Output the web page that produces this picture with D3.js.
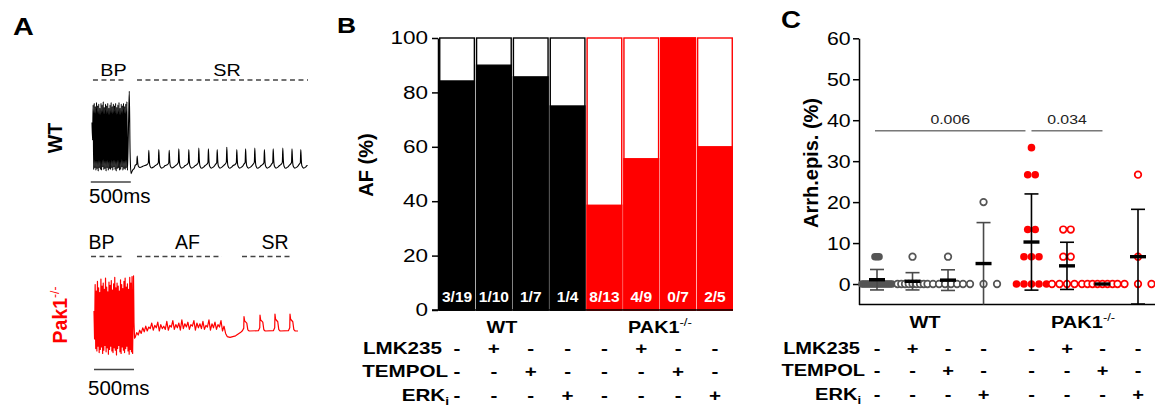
<!DOCTYPE html>
<html><head><meta charset="utf-8">
<script src="https://cdn.jsdelivr.net/npm/d3@7"></script>
<style>
body{margin:0;background:#fff}
svg{display:block}
text{font-family:"Liberation Sans",Arial,Helvetica,sans-serif}
</style>
</head><body>
<svg id="fig" width="1155" height="411"></svg>
<script>
// ================= DATA =================
// ---- Panel A : WT trace (time ms, signal a.u.) ----
const wtBurstHigh = [62, 84, 86, 82, 87, 83, 85, 80, 86, 84, 88, 81, 85, 83, 86, 80, 84, 87, 82, 85, 83, 86, 81, 84, 87, 80, 85, 83, 86, 82, 85, 88];
const wtBurstLow  = [40, 3, 5, 2, 4, 1, 5, 3, 2, 6, 3, 4, 1, 5, 2, 4, 3, 5, 2, 6, 3, 1, 4, 5, 2, 3, 6, 2, 4, 3, 5, 2];
const wtBurstEnd  = [[455, 50], [466, 101], [476, 25], [488, -2], [505, 2], [530, 5]];
const wtSpikeTimes = [565, 710, 835, 965, 1085, 1210, 1335, 1455, 1565, 1685, 1810, 1920, 2035, 2155, 2265, 2385, 2500, 2610];
const wtSpikePeaks = [20, 27, 28, 27, 29, 28, 30, 29, 28, 31, 28, 29, 30, 28, 29, 30, 29, 28];
const wtBaseline = 7;
const wtEndTime = 2675;
const wtSpikeShapeT = [-25, -6, 0, 6, 15, 35, 60, 80];
const wtSpikeShapeV = [0.1, 0.22, 1, 0.4, 0.02, -0.1, -0.04, 0.05];
const wtPhases = [{label: "BP", t0: 12, t1: 425, tl: 269}, {label: "SR", t0: 562, t1: 2700, tl: 1687}];

// ---- Panel A : Pak1-/- trace ----
const pakBurstHigh = [55, 88, 80, 92, 84, 78, 95, 86, 90, 82, 96, 85, 79, 91, 87, 93, 81, 89, 97, 84, 90, 86, 80, 94, 88, 83, 92, 96, 85, 89, 82, 97, 90, 98];
const pakBurstLow  = [20, 8, 5, 11, 3, 7, 10, 2, 6, 12, 4, 9, 1, 7, 11, 5, 3, 9, 6, 0, 8, 12, 4, 2, 10, 6, 3, 8, 11, 5, 1, 7, 4, 2];
const pakBurstEnd  = [[494, 99], [500, 40], [507, 21]];
const pakAF = [22, 28, 25, 31, 27, 34, 29, 36, 30, 35, 33, 40, 31, 37, 34, 41, 30, 38, 33, 36, 32, 42, 31, 37, 35, 43, 32, 38, 34, 40, 31, 44, 33, 39, 35, 41, 32, 38, 36, 43, 31, 40, 34, 39, 33, 42, 32, 37, 35, 44, 31, 39, 34, 41, 32, 38, 35, 43, 30, 36];
const pakAFStart = 515, pakAFEnd = 1625;
const pakDip = [[1645, 27], [1665, 23], [1700, 22], [1770, 24], [1830, 28]];
const pakSpikeTimes = [1875, 2075, 2262, 2450];
const pakSpikePeaks = [48, 50, 51, 51];
const pakBaseline = 30;
const pakEndTime = 2550;
const pakSpikeShapeT = [-20, -3, 0, 8, 35, 48, 65];
const pakSpikeShapeV = [0.02, 0.2, 1, 0.7, 0.55, 0.08, 0];
const pakPhases = [{label: "BP", t0: -37, t1: 362, tl: 94}, {label: "AF", t0: 537, t1: 1600, tl: 1169}, {label: "SR", t0: 1850, t1: 2487, tl: 2262}];
const scaleBarMs = 500;

// ---- Panel B ----
const conditions = ["WT", "WT+LMK235", "WT+TEMPOL", "WT+ERKi", "PAK1", "PAK1+LMK235", "PAK1+TEMPOL", "PAK1+ERKi"];
const genotype   = ["WT", "WT", "WT", "WT", "PAK1", "PAK1", "PAK1", "PAK1"];
const afCounts   = ["3/19", "1/10", "1/7", "1/4", "8/13", "4/9", "0/7", "2/5"];
const barPct     = [84.2, 90.0, 85.7, 75.0, 38.5, 55.6, 100, 60.0];
const bTicks     = [0, 20, 40, 60, 80, 100];

// ---- Treatment rows ----
const lmk235 = ["-", "+", "-", "-", "-", "+", "-", "-"];
const tempol = ["-", "-", "+", "-", "-", "-", "+", "-"];
const erki   = ["-", "-", "-", "+", "-", "-", "-", "+"];

// ---- Panel C ----
const arrh = [
  [0, 0, 0, 0, 0, 0, 0, 0, 0, 0, 0, 0, 0, 0, 0, 0, 6.67, 6.67, 6.67],
  [0, 0, 0, 0, 0, 0, 0, 0, 0, 6.67],
  [0, 0, 0, 0, 0, 0, 6.67],
  [0, 0, 0, 20],
  [0, 0, 0, 0, 0, 6.67, 6.67, 6.67, 13.3, 13.3, 26.7, 26.7, 33.3],
  [0, 0, 0, 0, 0, 6.67, 6.67, 13.3, 13.3],
  [0, 0, 0, 0, 0, 0, 0],
  [0, 0, 0, 6.67, 26.7]
];
const filledGroup = [true, false, false, false, true, false, false, false];
const cTicks = [0, 10, 20, 30, 40, 50, 60];
const sigs = [{a: 0, b: 4, p: "0.006"}, {a: 4, b: 6, p: "0.034"}];
const sigLevel = 37.4;

// ================= DRAWING =================
const RED = "#ff0000", GREY = "#555555";
const svg = d3.select("#fig");
svg.append("rect").attr("width", 1155).attr("height", 411).attr("fill", "#fff");

function addText(parent, x, y, o) {
  const g = parent.append("g").attr("transform",
    `translate(${x},${y})` + (o.rot ? ` rotate(${o.rot})` : "") + ` scale(${o.sx || 1},${o.sy || 1})`);
  const t = g.append("text").attr("text-anchor", o.anchor || "start")
    .attr("font-size", o.size).attr("font-weight", o.weight || "normal").attr("fill", o.fill || "#000");
  (Array.isArray(o.text) ? o.text : [{t: o.text}]).forEach(p => {
    const s = t.append("tspan").text(p.t);
    if (p.size) s.attr("font-size", p.size);
    if (p.dy) s.attr("dy", p.dy);
    if (p.weight) s.attr("font-weight", p.weight);
  });
  return t;
}

// panel letters
addText(svg, 13, 35, {text: "A", size: 24, weight: "bold", sx: 1.2});
addText(svg, 337, 33, {text: "B", size: 22, weight: "bold", sx: 1.2});
addText(svg, 781, 28, {text: "C", size: 24, weight: "bold", sx: 1.15});

// ---------- Panel A ----------
function buildTrace(high, low, burstDur, tail, spikeT, spikeP, base, shT, shV, endT, extra) {
  const pts = [];
  const n = high.length, dt = burstDur / n;
  for (let i = 0; i < n; i++) {
    pts.push([i * dt, high[i]]);
    pts.push([i * dt + dt / 2, low[i]]);
  }
  tail.forEach(p => pts.push(p));
  if (extra) extra.forEach(p => pts.push(p));
  spikeT.forEach((ts, i) => {
    shT.forEach((o, k) => pts.push([ts + o, base + (spikeP[i] - base) * shV[k]]));
  });
  pts.push([endT, base]);
  return pts;
}

// WT
const xWT = d3.scaleLinear().domain([0, 1000]).range([92, 172]);
const yWT = d3.scaleLinear().domain([0, 100]).range([172, 92]);
const wtPts = buildTrace(wtBurstHigh, wtBurstLow, 450, wtBurstEnd, wtSpikeTimes, wtSpikePeaks,
  wtBaseline, wtSpikeShapeT, wtSpikeShapeV, wtEndTime, null);
svg.append("path").attr("d", d3.line().curve(d3.curveMonotoneX).x(d => xWT(d[0])).y(d => yWT(d[1]))(wtPts))
  .attr("fill", "none").attr("stroke", "#000").attr("stroke-width", 1.1).attr("stroke-linejoin", "round");

wtPhases.forEach(p => {
  svg.append("line").attr("x1", xWT(p.t0)).attr("x2", xWT(p.t1)).attr("y1", 80).attr("y2", 80)
    .attr("stroke", "#444").attr("stroke-width", 1.3).attr("stroke-dasharray", "5,3.5");
  addText(svg, xWT(p.tl), 76, {text: p.label, size: 16.5, anchor: "middle", sx: 1.2});
});
svg.append("line").attr("x1", xWT(-15)).attr("x2", xWT(scaleBarMs - 15)).attr("y1", 182).attr("y2", 182)
  .attr("stroke", "#444").attr("stroke-width", 1.5);
addText(svg, 89, 203, {text: "500ms", size: 20.5});
addText(svg, 62, 138, {text: "WT", size: 19.5, weight: "bold", rot: -90, anchor: "middle"});

// Pak1-/-
const xPK = d3.scaleLinear().domain([0, 1000]).range([94, 174]);
const yPK = d3.scaleLinear().domain([0, 100]).range([355, 275]);
const afPts = pakAF.map((v, i) => [pakAFStart + i * (pakAFEnd - pakAFStart) / (pakAF.length - 1), v]);
const pkPts = buildTrace(pakBurstHigh, pakBurstLow, 490, pakBurstEnd, pakSpikeTimes, pakSpikePeaks,
  pakBaseline, pakSpikeShapeT, pakSpikeShapeV, pakEndTime, afPts.concat(pakDip));
svg.append("path").attr("d", d3.line().x(d => xPK(d[0])).y(d => yPK(d[1]))(pkPts))
  .attr("fill", "none").attr("stroke", RED).attr("stroke-width", 1.2).attr("stroke-linejoin", "round");

pakPhases.forEach(p => {
  svg.append("line").attr("x1", xPK(p.t0)).attr("x2", xPK(p.t1)).attr("y1", 256.5).attr("y2", 256.5)
    .attr("stroke", "#444").attr("stroke-width", 1.3).attr("stroke-dasharray", "5,3.5");
  addText(svg, xPK(p.tl), 249, {text: p.label, size: 19.5, anchor: "middle"});
});
svg.append("line").attr("x1", xPK(0)).attr("x2", xPK(scaleBarMs)).attr("y1", 369.5).attr("y2", 369.5)
  .attr("stroke", "#444").attr("stroke-width", 1.5);
addText(svg, 88, 395, {text: "500ms", size: 20.5});
addText(svg, 67, 315, {text: [{t: "Pak1"}, {t: "-/-", size: 12, dy: -8, weight: "normal"}],
  size: 19.5, weight: "bold", rot: -90, anchor: "middle", fill: RED});

// ---------- Panel B ----------
const gB = svg.append("g");
const xB = d3.scaleBand().domain(conditions).range([439, 733]).paddingInner(0.06).paddingOuter(0.02);
const yB = d3.scaleLinear().domain([0, 100]).range([310, 38]);
const bw = xB.bandwidth();
conditions.forEach((c, i) => {
  const col = genotype[i] === "WT" ? "#000" : RED;
  gB.append("rect").attr("x", xB(c)).attr("y", yB(100)).attr("width", bw).attr("height", yB(0) - yB(100))
    .attr("fill", "#fff").attr("stroke", col).attr("stroke-width", 1.4);
  gB.append("rect").attr("x", xB(c)).attr("y", yB(barPct[i])).attr("width", bw).attr("height", yB(0) - yB(barPct[i]))
    .attr("fill", col).attr("stroke", col).attr("stroke-width", 1.4);
  addText(gB, xB(c) + bw / 2, 302, {text: afCounts[i], size: 15.5, weight: "bold", anchor: "middle", fill: "#fff"});
});
const axB = gB.append("g").attr("transform", "translate(438,0)")
  .call(d3.axisLeft(yB).tickValues(bTicks).tickSize(6).tickSizeOuter(0));
axB.attr("font-size", 18).attr("font-family", null);
axB.selectAll("path,line").attr("stroke", "#000").attr("stroke-width", 1.5);
axB.selectAll(".tick text").attr("x", -8).attr("transform", "scale(1.25,1)").attr("fill", "#000");
gB.append("line").attr("x1", 432).attr("x2", 733).attr("y1", yB(0)).attr("y2", yB(0))
  .attr("stroke", "#000").attr("stroke-width", 1.5);
addText(gB, 373, 165, {text: "AF (%)", size: 20, weight: "bold", rot: -90, anchor: "middle"});

// ---------- Panel C ----------
const gC = svg.append("g");
const posIdx = conditions.map((c, i) => i + (i >= 4 ? 0.35 : 0));
const xC = d3.scaleLinear().domain([0, 7.35]).range([877, 1138]);
const yC = d3.scaleLinear().domain([-5, 60]).range([304.5, 38.3]);
const axC = gC.append("g").attr("transform", "translate(859,0)")
  .call(d3.axisLeft(yC).tickValues(cTicks).tickSize(6).tickSizeOuter(0));
axC.attr("font-size", 19).attr("font-family", null);
axC.selectAll("path,line").attr("stroke", "#000").attr("stroke-width", 1.5);
axC.selectAll(".tick text").attr("x", -7.5).attr("transform", "scale(1.12,1)").attr("fill", "#000");
gC.append("line").attr("x1", 859).attr("x2", 1155).attr("y1", yC(-5)).attr("y2", yC(-5))
  .attr("stroke", "#000").attr("stroke-width", 1.5);
addText(gC, 818, 163, {text: "Arrh.epis. (%)", size: 20, weight: "bold", rot: -90, anchor: "middle"});

// significance
sigs.forEach((s, k) => {
  const x1 = xC(posIdx[s.a]) - (k === 0 ? 2 : 0), x2 = xC(posIdx[s.b]) - (k === 0 ? 6 : 0);
  gC.append("line").attr("x1", x1).attr("x2", x2).attr("y1", yC(sigLevel)).attr("y2", yC(sigLevel))
    .attr("stroke", "#333").attr("stroke-width", 1);
  addText(gC, (x1 + x2) / 2, yC(sigLevel) - 7, {text: s.p, size: 13, anchor: "middle", sx: 1.22, fill: "#222"});
});

// points
arrh.forEach((vals, gi) => {
  const col = gi < 4 ? GREY : RED;
  const cx = xC(posIdx[gi]);
  const rows = d3.groups(vals, v => v);
  const maxRow = d3.max(rows, r => r[1].length);
  const spacing = maxRow > 1 ? Math.min(13.5, 30 / (maxRow - 1)) : 0;
  rows.forEach(([v, arr]) => {
    arr.forEach((_, j) => {
      const dx = (j - (arr.length - 1) / 2) * spacing;
      gC.append("circle").attr("cx", cx + dx).attr("cy", yC(v)).attr("r", filledGroup[gi] ? 3.8 : 3.3)
        .attr("fill", filledGroup[gi] ? col : "#fff").attr("stroke", col).attr("stroke-width", filledGroup[gi] ? 0 : 1.7);
    });
  });
});
// mean +- SD
arrh.forEach((vals, gi) => {
  const cx = xC(posIdx[gi]);
  const m = d3.mean(vals), sd = d3.deviation(vals) || 0;
  const ec = gi < 4 ? "#4a4a4a" : "#000";
  if (sd > 0) {
    gC.append("line").attr("x1", cx).attr("x2", cx).attr("y1", yC(m + sd)).attr("y2", Math.min(yC(m - sd), yC(-5)))
      .attr("stroke", ec).attr("stroke-width", 1.6);
    [m + sd, m - sd].forEach(v => {
      if (v > -5) gC.append("line").attr("x1", cx - 7).attr("x2", cx + 7).attr("y1", yC(v)).attr("y2", yC(v))
        .attr("stroke", ec).attr("stroke-width", 1.6);
    });
  }
  gC.append("line").attr("x1", cx - 8).attr("x2", cx + 8).attr("y1", yC(m)).attr("y2", yC(m))
    .attr("stroke", "#000").attr("stroke-width", 3.4);
});

// ---------- treatment tables ----------
function table(parent, colX, rowY, labelX, cfg) {
  const rows = [
    {name: [{t: "LMK235"}], signs: lmk235, lx: labelX[0]},
    {name: [{t: "TEMPOL"}], signs: tempol, lx: labelX[1]},
    {name: [{t: "ERK"}, {t: "i", size: 11, dy: 4}], signs: erki, lx: labelX[2]}
  ];
  rows.forEach((r, k) => {
    addText(parent, r.lx, rowY[k], {text: r.name, size: cfg.size, weight: "bold", anchor: "end", sx: cfg.sx});
    r.signs.forEach((s, i) => {
      addText(parent, colX(i), rowY[k], {text: s, size: cfg.size, weight: "bold", anchor: "middle", sx: cfg.sx});
    });
  });
}
table(gB, i => xB(conditions[i]) + bw / 2, [354, 377, 401], [442, 448, 449], {size: 16.5, sx: 1.25});
table(gC, i => xC(posIdx[i]), [354, 376, 400], [860, 865, 861], {size: 17, sx: 1.18});

addText(gB, 502, 333, {text: "WT", size: 16.5, weight: "bold", anchor: "middle", sx: 1.2});
addText(gB, 660, 333, {text: [{t: "PAK1"}, {t: "-/-", size: 11, dy: -7, weight: "normal"}], size: 16.5, weight: "bold", anchor: "middle", sx: 1.2});
addText(gC, 925, 328, {text: "WT", size: 17, weight: "bold", anchor: "middle", sx: 1.18});
addText(gC, 1083, 328, {text: [{t: "PAK1"}, {t: "-/-", size: 11, dy: -7, weight: "normal"}], size: 17, weight: "bold", anchor: "middle", sx: 1.18});
</script>
</body></html>
